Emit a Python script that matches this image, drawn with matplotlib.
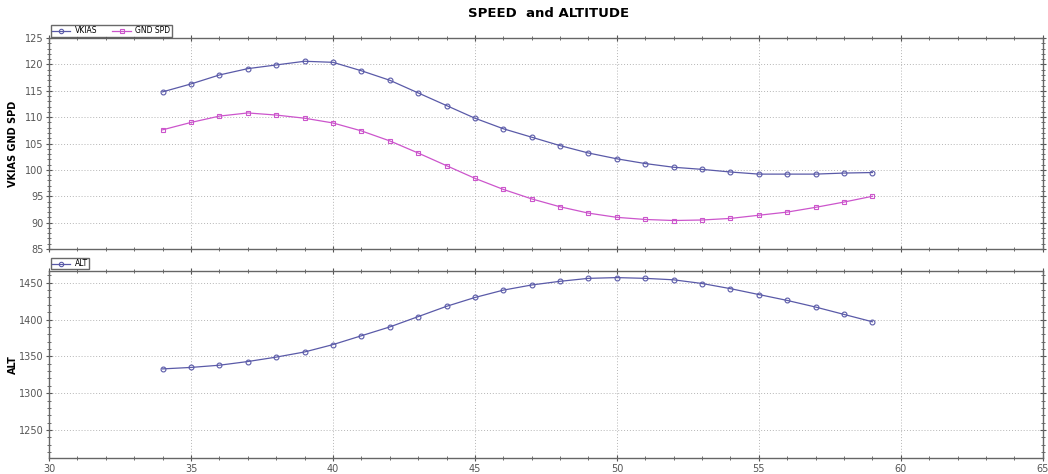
import matplotlib.pyplot as plt
from matplotlib.ticker import MultipleLocator

# Data
time = [34, 35, 36, 37, 38, 39, 40, 41, 42, 43, 44, 45, 46, 47, 48, 49, 50,
        51, 52, 53, 54, 55, 56, 57, 58, 59]
vkias = [114.8, 116.3, 118.0, 119.2, 119.9, 120.6, 120.4, 118.8, 117.0, 114.6,
         112.2, 109.8, 107.8, 106.2, 104.6, 103.2, 102.1, 101.2, 100.5, 100.1,
         99.6, 99.2, 99.2, 99.2, 99.4, 99.5]
gnd_spd = [107.6, 109.0, 110.2, 110.8, 110.4, 109.8, 108.9, 107.4, 105.5, 103.2,
           100.8, 98.4, 96.3, 94.5, 93.0, 91.8, 91.0, 90.6, 90.4, 90.5,
           90.8, 91.4, 92.0, 92.9, 93.9, 95.0]
alt = [1333, 1335, 1338, 1343, 1349, 1356, 1366, 1378, 1390, 1404, 1418, 1430,
       1440, 1447, 1452, 1456, 1457, 1456, 1454, 1449, 1442, 1434, 1426, 1417,
       1407, 1397]

blue = '#5a5aa8'
pink = '#cc55cc'
grey = '#555555'

fig = plt.figure(figsize=(10.48, 4.74), dpi=100)
ax1 = fig.add_axes([0.0468, 0.4747, 0.9482, 0.445])
ax2 = fig.add_axes([0.0468, 0.0338, 0.9482, 0.3945])

ax1.plot(time, vkias, color=blue, lw=0.9, marker='o', ms=3.5, mfc='none',
         mew=0.8, label='VKIAS')
ax1.plot(time, gnd_spd, color=pink, lw=0.9, marker='s', ms=3.5, mfc='none',
         mew=0.8, label='GND SPD')
ax2.plot(time, alt, color=blue, lw=0.9, marker='o', ms=3.5, mfc='none',
         mew=0.8, label='ALT')

ax1.set_ylim(85, 125)
ax1.yaxis.set_major_locator(MultipleLocator(5))
ax1.yaxis.set_minor_locator(MultipleLocator(1))
ax2.set_ylim(1212, 1466)
ax2.yaxis.set_major_locator(MultipleLocator(50))
ax2.yaxis.set_minor_locator(MultipleLocator(10))

for ax in (ax1, ax2):
    ax.set_xlim(30, 65)
    ax.xaxis.set_major_locator(MultipleLocator(5))
    ax.xaxis.set_minor_locator(MultipleLocator(1))
    ax.grid(True, which='major', color='#b5b5b5', linestyle=(0, (1, 2)),
            lw=0.7)
    ax.tick_params(which='both', direction='inout', top=True, right=True,
                   colors=grey, labelsize=7, labelcolor='#555555', pad=1.5)
    ax.tick_params(which='major', length=5)
    ax.tick_params(which='minor', length=2.5)
    for s in ax.spines.values():
        s.set_color('#666666')
        s.set_linewidth(1.0)
    ax.legend(loc='lower left', bbox_to_anchor=(0.0, 1.0), ncol=2,
              fontsize=5.5, frameon=True, fancybox=False, edgecolor='#444444',
              borderpad=0.15, handlelength=2.4, columnspacing=2.0,
              borderaxespad=0.2, handletextpad=0.6, markerscale=0.9)

ax1.tick_params(axis='x', labelbottom=False)
ax1.set_ylabel('VKIAS GND SPD', fontsize=7, fontweight='bold')
ax2.set_ylabel('ALT', fontsize=7, fontweight='bold')
ax1.yaxis.set_label_coords(-0.031, 0.5)
ax2.yaxis.set_label_coords(-0.031, 0.5)

fig.suptitle('SPEED  and ALTITUDE', fontsize=9.5, fontweight='bold',
             x=0.523, y=0.985)

fig.savefig('out.png', dpi=100)
